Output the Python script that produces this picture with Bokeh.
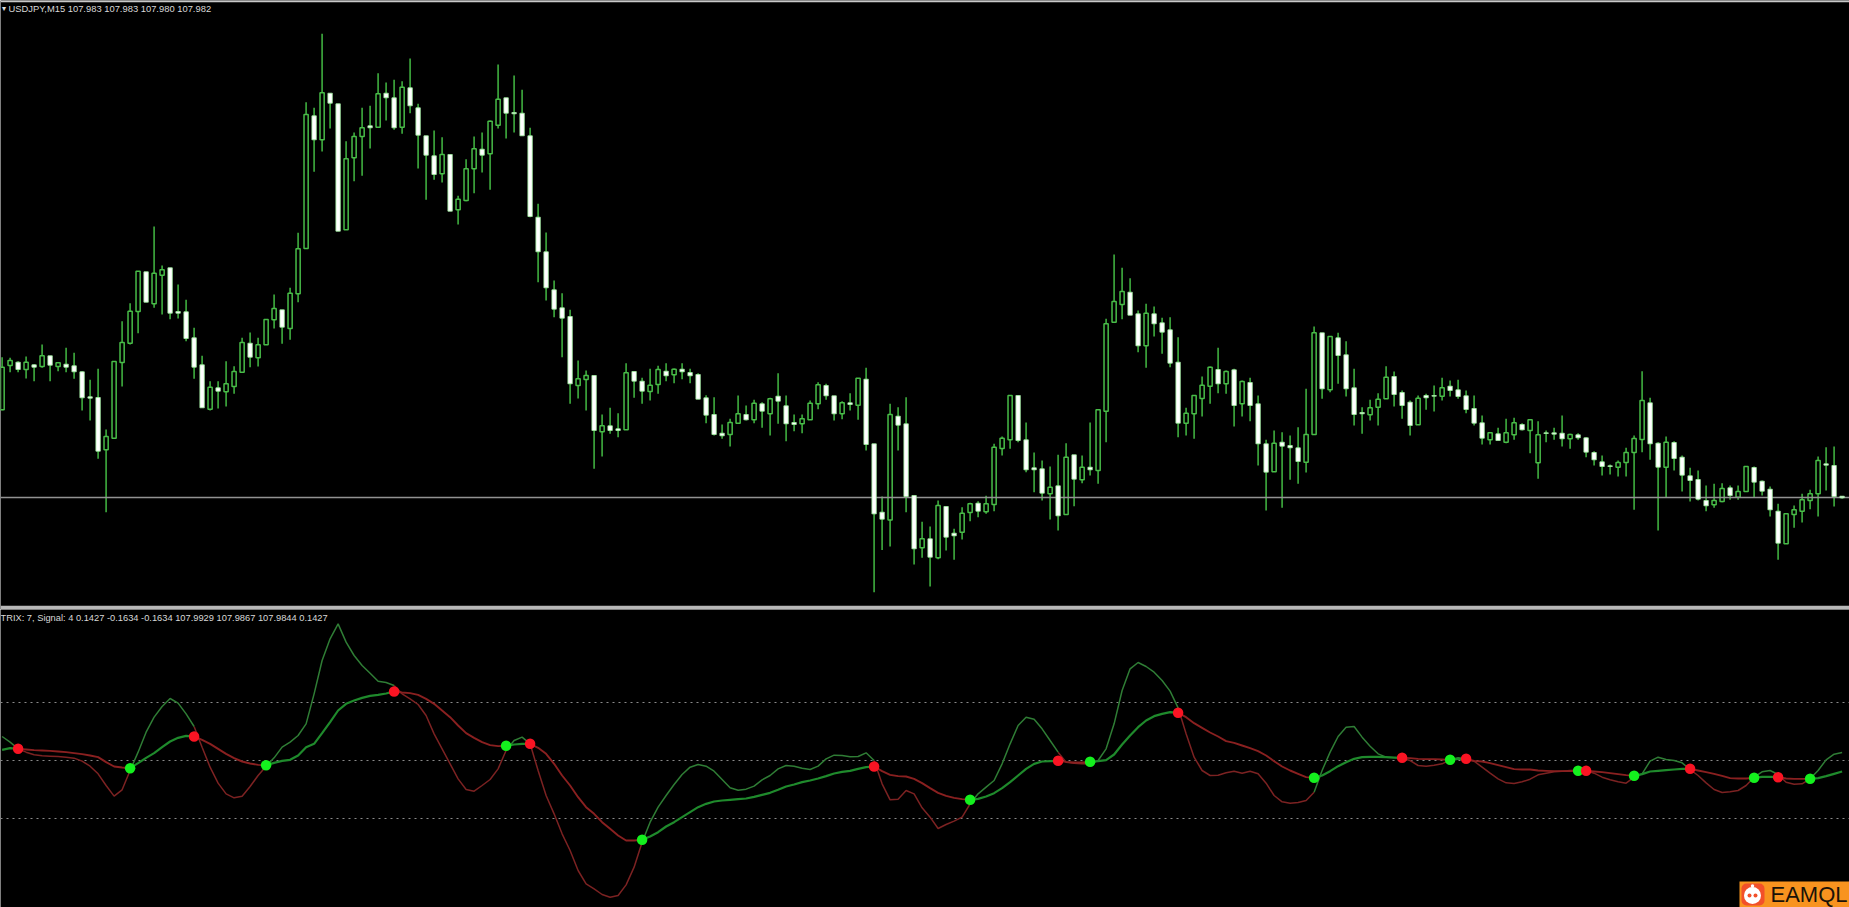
from bokeh.plotting import figure
from bokeh.layouts import column
from bokeh.models import Range1d, Label, BoxAnnotation
from bokeh.embed import file_html
from bokeh.resources import INLINE

# Prices are expressed in points above the bid line (the horizontal line of the chart)
opens = [87.4,131.7,135,127.7,132.4,130.7,141.4,130.7,133,131.4,
 125.4,100.4,99.7,47.4,59,134.7,154,185.7,225.4,193.4,
 222,229.4,185.7,185.4,159.4,132.4,88,109.4,105.4,110.7,
 125,154,139.4,152.4,177.4,187.4,168.7,203.4,248.7,381.4,
 357.4,404,393.4,267.4,339.4,360.7,371.4,370,404,399.4,
 370,409.4,389.4,361.4,341.4,323.4,342.7,287.4,296.7,328.4,
 348,343.4,372,399.4,384.7,384,361.4,280,245.4,207.4,
 189.4,180.7,111.7,117.7,121.7,65.4,71.4,68.4,67.4,125.7,
 116,105.7,112.7,126,122.4,128,124.7,122.7,99.4,82.7,
 64,62.7,74,82.7,77.4,93.4,83.4,101,91.4,74.7,
 73.4,77.4,93.4,111.7,101.4,83.4,94.4,92,118,53.4,
 -15,-22.7,81,73.4,1.7,-50.6,-41.6,-60.6,-9.3,-36,
 -35,-15.3,-6,-14.6,-7.3,48.7,57.4,101.7,57.4,29.4,
 28.4,3.4,11.4,-17.3,42.4,17.4,30,26.7,86,175,
 192.7,205,183.4,151.4,183.4,174.4,167.4,135,74,83.4,
 98.7,111,127.7,113.4,127.4,93.4,114.7,93.4,53.4,25.4,
 55,51.7,49.4,35,62.7,164.4,107.4,159.4,142.4,109.4,
 84.7,82.4,90,98.4,120.7,104.7,95,72.4,101.7,101.7,
 101,111,107.4,101.4,88.7,74.4,57.4,63.4,55,62.4,
 72.7,66.7,34.4,64.4,64.4,64,58.4,62.4,59.4,44.7,
 35.4,31.4,30,34.7,44.7,57.7,94.4,54,30,54.7,
 40,21.4,17.7,-3.3,-7.6,-4.3,9.4,0,5.7,29.7,
 16,8,-14,-46.6,-17.3,-14,-3.3,3.4,33.4,31.7,
 1]
highs = [140,139.4,136,140.7,133,152.7,141.4,134.4,149.4,144.4,
 126,117.4,128.4,67.7,135.7,176,194,226,225.4,270.7,
 231.7,229.4,212.7,197.4,169.4,141.4,116,116,136,131,
 159.4,164.7,159.4,177.7,202.7,187.4,209.4,264.4,395,389.4,
 463.4,404,393.4,356,364.7,389.4,391.4,424,414.7,417.4,
 416,438.7,393.4,361.4,366.7,360,342.7,301.4,338,360.7,
 364.7,376.7,432.7,399.4,421.7,407.4,369.4,293.4,264.7,216.7,
 204,187.4,136.7,126.7,121.7,82.7,89.4,84,134,125.7,
 119.4,128.4,131.4,134,128.7,134,128.4,124,102,100,
 72.7,78.4,101.7,91.7,97.4,95,99.4,124,101.7,82.7,
 82.7,96.7,115,113.4,101.4,96,104,119,129.4,53.4,
 0.7,93.4,90,100,1.7,-24.6,-29.3,-3.3,-9.3,-31.6,
 -10,-5.6,-4,1.4,53.4,60.7,101.7,101.7,74.7,44.7,
 36.7,30.7,42.4,54,42.4,41.7,74.7,87.4,178.4,242.7,
 229.4,219,186.7,193.4,190.7,179.4,180,160,89.4,101.7,
 120.7,130.7,149.4,126.7,128.4,116.7,119.4,101.7,57.4,66.7,
 65,61.7,70,108.4,170.7,164.4,160.7,164.4,156,128.4,
 90,97.4,104,131,125.7,106.7,96.7,101.7,103.4,111.7,
 119.4,116.7,117.4,106.7,101.7,81.7,65,69.4,78.4,79.4,
 74,77.4,76,66.7,69.4,81.7,63.4,64,60,46,
 41.7,32.7,36.7,49.4,61.7,126,99.4,55,60.7,56,
 41.7,29.4,26.7,11.7,13.4,14,11.7,11.7,30.7,30.7,
 16.7,10.7,-6.6,-16.6,-8.3,3.4,7.4,40.7,50,50.7,
 1]
lows = [87,125,125,118.7,116,129.4,116,126,125,118.4,
 86.7,76.7,38.4,-15,59,110.7,152.7,164,195,189.4,
 182.7,178,178.7,156,118.4,89.4,86.7,88.7,90.7,103.4,
 125,130,130.7,152.4,168.7,153.4,157.4,195,248.7,325.4,
 345.7,368.7,266,267.4,316,321.4,348.7,370,376.7,367.4,
 363.4,384,328.7,297.4,317.4,314.7,286,272.7,296,304,
 324.7,307.4,368.7,358.7,364.7,361.4,280,215,196.7,180,
 140,93.4,98.7,86.7,28.4,40.7,63.4,60,67.4,99.4,
 93.4,96.7,103.4,116,114,118,114,98,74,61.7,
 58.4,50.7,73.4,76.7,74,69.4,61.7,73.4,56,66,
 64,77.4,88,97.4,76.7,78,86.7,77.4,46.7,-95,
 -52.7,-49.3,46.7,-15,-67.3,-60.6,-89.3,-62,-53.3,-62.6,
 -42.3,-24,-20,-16.6,-14,41.7,48.4,55,25,5,
 -3.3,-22.3,-33.3,-17.3,-9,14,21.7,13.4,55,175,
 178,182,145,129.4,160.7,143.4,130,60,61.7,58.4,
 80.7,93.4,104,103.4,70.7,80.7,76,31.7,-13.3,25.4,
 -10.6,17.4,13.4,24.7,62.7,98.4,105,113.4,100.7,71.7,
 63.4,76.7,71.7,98.4,90.7,78.4,61.7,72.4,87.4,85.7,
 96.7,100.7,98.4,84,71.7,52.7,52.7,56.7,54,57.4,
 66.7,44,18.4,55,57.4,50.7,48.4,57.4,40,31.7,
 21.7,22.7,20.7,20.7,-12.6,45,37.4,-33.3,0,26.7,
 5.7,-4.3,-3.3,-14,-10.6,-5,-2.6,-2.6,5.7,0,
 1.7,-19.3,-62.6,-46.6,-30.6,-25.3,-12,-19.3,6.7,-9.3,
 -1.6]
closes = [130,136.7,127.7,135,130,141.4,132,134.4,130,125.4,
 99.4,99,46,60.7,135.7,154.7,186,226,195,224,
 227.4,184,184,158.7,130,89.4,110,106,113.4,125.7,
 154.7,140,152.4,177.7,188.7,170,204,248.4,382.7,357.4,
 404.4,394,266,338.4,360.7,369.4,369.4,403.4,399.4,369.4,
 410,391.4,362,342,322.7,342.7,286,298,328.4,348.4,
 342,376,398,384,383.4,361.4,280.7,245.4,209.4,188,
 179,113.4,118.4,121.7,66.7,71.4,66.7,66.7,124.4,116,
 106,112,127.7,121.4,128,125.4,121.4,98,82,62.7,
 61.4,74.7,83.4,77.4,94,86,98.4,96,73.4,72.7,
 78.4,94,112.4,101.4,83.4,94.4,92.7,119,52.7,-16.7,
 -22,82.7,72,0.7,-51.6,-41.6,-60,-8.3,-40,-38.6,
 -16,-6.6,-14,-6.6,50,59,101.7,56.7,27.4,27.4,
 4,10,-18.6,40,18,30,27.4,87.4,173.4,195.7,
 205.7,182,151.4,184,173.4,165,134,74,84,101.7,
 112,130,113.4,125.7,91.7,115.7,91.7,53.4,25,54,
 51,49.4,35.7,62.7,164.4,108.4,160.7,141.7,108.4,82.7,
 83.4,89.4,98,120,102.7,91.7,71.7,99,99.4,101,
 109.4,106.7,100.7,87.7,74,59,64.4,56.7,64.4,74.4,
 67.4,77.4,62.4,63.7,63,58.4,62.7,59.4,45,37.4,
 30.7,30.7,34.7,44.7,58.7,96.7,53.4,30,55,38.7,
 22,16.7,-2,-8.6,-3.3,8.7,1.7,5.7,30.7,15,
 6,-12.6,-46,-16.6,-12.6,-2.6,3.4,36.7,32,0.7,
 -0.6]
# TRIX and signal, in units where the dotted levels sit at +-LEVEL
LEVEL = 174
trix = [73,56,36,26,18,15,14,13,11,8,
 -1,-16,-39,-74,-106,-87,-29,26,86,131,
 163,187,173,141,103,41,-19,-67,-99,-111,
 -106,-77,-44,-16,9,41,56,76,111,201,
 301,366,411,356,316,286,263,239,235,226,
 201,186,169,136,81,36,-9,-54,-86,-91,
 -74,-56,-24,31,61,71,51,-29,-104,-159,
 -219,-269,-329,-369,-384,-401,-409,-404,-372,-319,
 -244,-184,-139,-104,-71,-41,-19,-11,-16,-31,
 -56,-81,-88,-85,-76,-57,-44,-24,-14,-16,
 -22,-26,-16,6,17,16,12,13,24,1,
 -69,-117,-115,-89,-99,-141,-169,-203,-191,-181,
 -169,-129,-99,-79,-59,-9,51,106,131,125,
 96,61,26,-4,-7,-9,-9,1,36,111,
 211,276,295,283,266,241,209,159,81,11,
 -29,-44,-43,-36,-31,-37,-31,-39,-67,-104,
 -123,-127,-125,-119,-94,-29,26,73,101,103,
 71,44,21,11,9,8,1,-14,-16,-13,
 -9,3,9,5,-1,-19,-37,-54,-66,-68,
 -63,-55,-42,-37,-33,-31,-29,-28,-29,-37,
 -49,-57,-63,-67,-49,-39,-1,11,4,1,
 -6,-26,-44,-66,-86,-95,-93,-89,-74,-49,
 -33,-29,-41,-64,-70,-69,-54,-29,3,20,
 25]
signal = [33,38,36,34,32,31,30,28,26,23,
 20,16,11,-4,-17,-20,-22,-7,9,23,
 41,58,69,75,73,63,51,36,21,8,
 -2,-8,-12,-13,-6,0,3,16,41,51,
 83,116,151,171,181,189,195,198,202,208,
 205,203,198,186,171,151,131,106,83,69,
 56,47,44,45,49,51,51,39,21,-9,
 -44,-74,-109,-139,-159,-184,-204,-224,-239,-239,
 -237,-227,-214,-197,-184,-169,-154,-139,-129,-122,
 -119,-117,-115,-113,-108,-102,-96,-87,-77,-71,
 -64,-59,-53,-46,-38,-33,-30,-24,-19,-17,
 -31,-42,-46,-47,-54,-67,-82,-96,-105,-111,
 -115,-117,-114,-107,-97,-82,-64,-44,-24,-9,
 -2,-1,0,-3,-5,-5,-3,-1,2,19,
 49,76,101,121,134,141,146,144,131,113,
 99,85,73,59,54,46,38,29,16,-1,
 -17,-29,-39,-49,-51,-44,-31,-16,-4,6,
 11,12,12,11,10,9,8,6,5,5,
 4,3,6,6,0,-2,-7,-13,-19,-25,
 -26,-26,-29,-30,-31,-31,-31,-30,-30,-32,
 -34,-37,-40,-43,-45,-40,-32,-30,-28,-26,
 -24,-24,-29,-34,-39,-45,-52,-53,-53,-51,
 -48,-48,-49,-53,-54,-54,-54,-52,-46,-39,
 -32]
bull_cross = [16,33,63,80,121,136,164,181,197,204,219,226]
bear_cross = [2,24,49,66,109,132,147,175,183,198,211,222]
levels = [LEVEL, 0, -LEVEL]
header_main = "USDJPY,M15  107.983 107.983 107.980 107.982"
header_sub = "TRIX: 7, Signal: 4 0.1427 -0.1634 -0.1634 107.9929 107.9867 107.9844 0.1427"
watermark = "EAMQL"

n = len(opens)
xs = list(range(n))
WICK, EDGE = "#3fae3f", "#48bc48"
GREEN_T, RED_T = "#2f7d35", "#7c2222"
GREEN_S, RED_S = "#1f8a2c", "#8a2020"

W, H1, H2 = 1849, 609, 298
x_range = Range1d(-0.2, 230.925)


def base(h, y0, y1):
    f = figure(width=W, height=h, x_range=x_range, y_range=Range1d(y0, y1),
               x_axis_location=None, y_axis_location=None, toolbar_location=None,
               output_backend="svg", background_fill_color="black",
               border_fill_color="black", min_border=0, outline_line_color=None)
    f.grid.visible = False
    return f


# ---------- price pane ----------
p1 = base(H1, -112.3, 496.7)
p1.segment(xs, lows, xs, highs, line_color=WICK, line_width=1.6)

up = [i for i in xs if closes[i] >= opens[i]]
down = [i for i in xs if closes[i] < opens[i]]
p1.vbar(x=up, width=0.52, bottom=[opens[i] for i in up], top=[closes[i] for i in up],
        fill_color="black", line_color=EDGE, line_width=1.5)
p1.hspan(y=[0], line_color="#929292", line_width=1.6)
p1.vbar(x=down, width=0.55, bottom=[closes[i] for i in down], top=[opens[i] for i in down],
        fill_color="white", line_color="#a0eca0", line_width=0.8)
p1.hspan(y=[496], line_color="#c8c8c8", line_width=1.5)
p1.hspan(y=[-110.6], line_color="#b8b8b8", line_width=3.5)
p1.add_layout(Label(x=1, y=H1 - 8, x_units="screen", y_units="screen", text="\u25be",
                    text_color="#e0e0e0", text_font_size="8px", text_baseline="middle"))
p1.add_layout(Label(x=8, y=H1 - 8, x_units="screen", y_units="screen", text=header_main,
                    text_color="#d8d8d8", text_font="Liberation Sans", text_font_size="9.4px",
                    text_baseline="middle"))

# ---------- TRIX pane ----------
p2 = base(H2, -440, 454)
p2.hspan(y=levels, line_color="#8a8a8a", line_width=1.2, line_dash="2 4")


def runs(series):
    """Split a series at the crossings into green (bullish) and red (bearish) stretches."""
    cuts = sorted([(c, True) for c in bull_cross] + [(c, False) for c in bear_cross])
    edges = [(0, True)] + cuts + [(n - 1, True)]
    g, r = [[], []], [[], []]
    for (a, bull), (b, _) in zip(edges[:-1], edges[1:]):
        bucket = g if bull else r
        bucket[0].append(list(range(a, b + 1)))
        bucket[1].append(series[a:b + 1])
    return g, r


tg, tr = runs(trix)
sg, sr = runs(signal)
p2.multi_line(tr[0], tr[1], line_color=RED_T, line_width=1.5)
p2.multi_line(tg[0], tg[1], line_color=GREEN_T, line_width=1.5)
p2.multi_line(sr[0], sr[1], line_color=RED_S, line_width=1.9)
p2.multi_line(sg[0], sg[1], line_color=GREEN_S, line_width=2.2)
p2.scatter(bull_cross, [signal[i] for i in bull_cross], size=10.5, fill_color="#14f01e", line_color=None)
p2.scatter(bear_cross, [signal[i] for i in bear_cross], size=10.5, fill_color="#fa1423", line_color=None)
p2.add_layout(Label(x=0, y=H2 - 8.5, x_units="screen", y_units="screen", text=header_sub,
                    text_color="#d8d8d8", text_font="Liberation Sans", text_font_size="9.3px",
                    text_baseline="middle"))

# ---------- watermark (window pixels -> pane coordinates) ----------
sx = lambda px: (px - 1.6) / 8
sy = lambda py: (760.33 - py) * 3
p2.add_layout(BoxAnnotation(left=sx(1739), right=sx(1849), bottom=sy(907), top=sy(881),
                            fill_color="#f8931f", fill_alpha=1, line_color=None, level="underlay"))
p2.add_layout(BoxAnnotation(left=sx(1741), right=sx(1764), bottom=sy(905), top=sy(883),
                            fill_color="#f2502a", fill_alpha=1, line_color=None, level="underlay",
                            border_radius=5))
p2.scatter([sx(1752)], [sy(885.5)], size=3.5, fill_color="white", line_color=None)
p2.scatter([sx(1752)], [sy(895)], size=17, fill_color="white", line_color=None)
p2.scatter([sx(1749), sx(1755)], [sy(895)] * 2, size=4, fill_color="#f2502a", line_color=None)
p2.add_layout(Label(x=1770, y=13, x_units="screen", y_units="screen",
                    text=watermark, text_color="#1a1208", text_font="Liberation Sans",
                    text_font_size="22px", text_baseline="middle"))

page = column(p1, p2, spacing=0, margin=(0, 0, 0, 0))
open("out.html", "w").write(file_html(page, INLINE))
